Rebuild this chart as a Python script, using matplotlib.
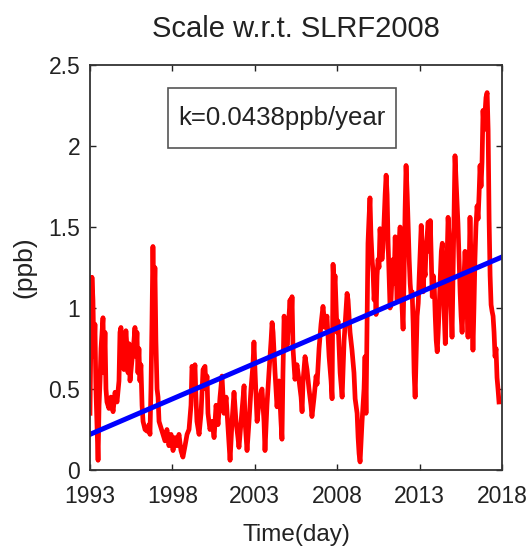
import numpy as np
from matplotlib import pyplot as plt
from matplotlib.patches import Rectangle
from matplotlib.ticker import FormatStrFormatter

# Scale parameter w.r.t. SLRF2008

# Time (decimal year)
t = [
    1993.00, 1993.06, 1993.12, 1993.18, 1993.24, 1993.30, 1993.36, 1993.42, 1993.49, 1993.55,
    1993.61, 1993.67, 1993.79, 1993.85, 1993.91, 1993.97, 1994.03, 1994.15, 1994.27, 1994.40,
    1994.52, 1994.64, 1994.76, 1994.82, 1994.88, 1994.94, 1995.00, 1995.06, 1995.18, 1995.25,
    1995.31, 1995.37, 1995.43, 1995.55, 1995.67, 1995.73, 1995.79, 1995.85, 1995.91, 1995.97,
    1996.03, 1996.09, 1996.16, 1996.22, 1996.34, 1996.46, 1996.58, 1996.64, 1996.70, 1996.76,
    1996.82, 1996.88, 1996.94, 1997.00, 1997.07, 1997.13, 1997.19, 1997.31, 1997.43, 1997.55,
    1997.67, 1997.79, 1997.92, 1998.04, 1998.16, 1998.28, 1998.40, 1998.52, 1998.64, 1998.77,
    1998.89, 1999.01, 1999.13, 1999.19, 1999.31, 1999.37, 1999.43, 1999.49, 1999.62, 1999.74,
    1999.86, 1999.98, 2000.04, 2000.10, 2000.16, 2000.28, 2000.41, 2000.53, 2000.65, 2000.77,
    2000.89, 2001.01, 2001.13, 2001.26, 2001.38, 2001.50, 2001.62, 2001.74, 2001.86, 2001.98,
    2002.04, 2002.17, 2002.29, 2002.35, 2002.41, 2002.53, 2002.65, 2002.77, 2002.89, 2002.95,
    2003.02, 2003.14, 2003.26, 2003.38, 2003.44, 2003.56, 2003.62, 2003.74, 2003.86, 2003.99,
    2004.05, 2004.11, 2004.23, 2004.35, 2004.47, 2004.59, 2004.65, 2004.71, 2004.78, 2004.84,
    2004.90, 2004.96, 2005.08, 2005.14, 2005.20, 2005.26, 2005.32, 2005.44, 2005.56, 2005.69,
    2005.81, 2005.87, 2005.93, 2006.05, 2006.17, 2006.29, 2006.41, 2006.47, 2006.60, 2006.72,
    2006.78, 2006.90, 2007.02, 2007.14, 2007.26, 2007.38, 2007.51, 2007.63, 2007.69, 2007.75,
    2007.81, 2007.87, 2007.99, 2008.05, 2008.18, 2008.30, 2008.42, 2008.54, 2008.60, 2008.66,
    2008.78, 2008.90, 2009.02, 2009.09, 2009.21, 2009.27, 2009.33, 2009.39, 2009.45, 2009.51,
    2009.63, 2009.69, 2009.75, 2009.81, 2009.87, 2009.93, 2009.99, 2010.05, 2010.12, 2010.18,
    2010.24, 2010.30, 2010.36, 2010.42, 2010.48, 2010.54, 2010.60, 2010.66, 2010.72, 2010.78,
    2010.85, 2010.91, 2010.97, 2011.03, 2011.09, 2011.15, 2011.21, 2011.27, 2011.33, 2011.39,
    2011.45, 2011.52, 2011.58, 2011.64, 2011.70, 2011.76, 2011.82, 2011.88, 2011.94, 2012.00,
    2012.06, 2012.12, 2012.18, 2012.25, 2012.31, 2012.37, 2012.43, 2012.49, 2012.55, 2012.61,
    2012.67, 2012.73, 2012.79, 2012.85, 2012.92, 2012.98, 2013.04, 2013.10, 2013.16, 2013.22,
    2013.28, 2013.34, 2013.40, 2013.46, 2013.52, 2013.59, 2013.65, 2013.71, 2013.77, 2013.83,
    2013.89, 2013.95, 2014.01, 2014.07, 2014.13, 2014.19, 2014.26, 2014.32, 2014.38, 2014.44,
    2014.50, 2014.56, 2014.62, 2014.67, 2014.73, 2014.79, 2014.85, 2014.91, 2014.97, 2015.03,
    2015.09, 2015.15, 2015.21, 2015.27, 2015.33, 2015.40, 2015.46, 2015.52, 2015.58, 2015.64,
    2015.70, 2015.76, 2015.82, 2015.88, 2015.94, 2016.00, 2016.06, 2016.12, 2016.18, 2016.24,
    2016.30, 2016.36, 2016.42, 2016.49, 2016.55, 2016.61, 2016.67, 2016.73, 2016.79, 2016.85,
    2016.91, 2016.97, 2017.03, 2017.10, 2017.16, 2017.22, 2017.28, 2017.34, 2017.40, 2017.46,
    2017.52, 2017.58, 2017.64, 2017.70, 2017.76, 2017.82,
]

# Scale (ppb)
scale = [
    0.35, 0.85, 1.19, 1.05, 0.70, 0.90, 0.50, 0.30, 0.06, 0.40,
    0.55, 0.75, 0.94, 0.60, 0.85, 0.50, 0.42, 0.38, 0.45, 0.36,
    0.48, 0.42, 0.55, 0.85, 0.88, 0.70, 0.82, 0.62, 0.86, 0.75,
    0.60, 0.78, 0.55, 0.68, 0.80, 0.88, 0.70, 0.85, 0.60, 0.75,
    0.55, 0.65, 0.40, 0.30, 0.25, 0.24, 0.28, 0.22, 0.50, 0.90,
    1.38, 1.00, 1.25, 0.80, 0.50, 0.45, 0.30, 0.26, 0.22, 0.18,
    0.25, 0.15, 0.22, 0.12, 0.20, 0.15, 0.22, 0.12, 0.08, 0.15,
    0.22, 0.25, 0.40, 0.64, 0.58, 0.65, 0.45, 0.30, 0.22, 0.35,
    0.62, 0.64, 0.50, 0.58, 0.35, 0.25, 0.30, 0.20, 0.40, 0.28,
    0.45, 0.58, 0.35, 0.45, 0.25, 0.06, 0.30, 0.48, 0.30, 0.20,
    0.14, 0.30, 0.45, 0.52, 0.30, 0.12, 0.30, 0.50, 0.65, 0.79,
    0.60, 0.30, 0.42, 0.48, 0.50, 0.30, 0.12, 0.40, 0.60, 0.80,
    0.91, 0.85, 0.60, 0.39, 0.55, 0.30, 0.19, 0.60, 0.95, 0.85,
    0.90, 0.77, 0.95, 1.05, 0.90, 1.07, 0.75, 0.56, 0.65, 0.55,
    0.45, 0.36, 0.55, 0.70, 0.62, 0.50, 0.40, 0.33, 0.45, 0.58,
    0.53, 0.75, 0.90, 1.01, 0.88, 0.95, 0.70, 0.55, 0.44, 1.27,
    1.10, 1.20, 0.85, 0.92, 0.60, 0.45, 0.80, 1.00, 1.09, 1.05,
    0.85, 0.74, 0.60, 0.44, 0.35, 0.20, 0.10, 0.05, 0.17, 0.30,
    0.50, 0.70, 0.35, 0.90, 1.40, 1.55, 1.68, 1.45, 1.30, 1.22,
    1.05, 1.15, 0.96, 1.20, 1.30, 1.25, 1.49, 1.40, 1.30, 1.37,
    1.55, 1.70, 1.82, 1.70, 1.40, 1.20, 1.00, 1.05, 1.20, 1.30,
    1.15, 1.44, 1.20, 1.05, 1.30, 1.40, 1.50, 1.20, 1.00, 0.87,
    1.20, 1.60, 1.88, 1.70, 1.50, 1.30, 1.15, 1.07, 1.10, 0.90,
    0.60, 0.45, 0.70, 0.95, 1.03, 1.20, 1.35, 1.51, 1.30, 1.10,
    1.25, 1.20, 1.40, 1.45, 1.53, 1.35, 1.54, 1.30, 1.07, 1.20,
    1.14, 0.95, 0.80, 0.73, 0.85, 1.00, 1.20, 1.35, 1.40, 1.20,
    0.95, 0.78, 1.00, 1.30, 1.56, 1.45, 1.20, 1.00, 0.82, 1.20,
    1.60, 1.94, 1.80, 1.65, 1.52, 1.30, 1.10, 0.95, 0.85, 1.00,
    1.20, 1.35, 1.20, 1.00, 0.82, 1.20, 1.56, 1.30, 1.00, 0.74,
    1.00, 1.30, 1.50, 1.63, 1.55, 1.70, 1.88, 1.75, 1.90, 2.22,
    2.10, 2.20, 2.30, 2.33, 2.10, 1.54, 1.20, 1.02, 0.98, 0.95,
    0.85, 0.70, 0.75, 0.57, 0.50, 0.42,
]

# Linear trend: intercept at 1993 and rate k (ppb/year)
T0 = 1993
INTERCEPT = 0.22
K = 0.0438

xticks = [1993, 1998, 2003, 2008, 2013, 2018]
yticks = [0, 0.5, 1, 1.5, 2, 2.5]

plt.rcParams["font.family"] = ["Liberation Sans", "DejaVu Sans"]

fig = plt.figure(figsize=(5.29, 5.54), dpi=100)
ax = fig.add_axes([0.1701, 0.1516, 0.7788, 0.731])

t = np.array(t)
scale = np.array(scale)

ax.plot(t, scale, color=(1, 0, 0), lw=3.4, solid_joinstyle="round")
trend_t = np.array([T0, xticks[-1]])
ax.plot(trend_t, INTERCEPT + K * (trend_t - T0), color=(0, 0, 1), lw=3.6)

ax.set_xlim(xticks[0], xticks[-1])
ax.set_ylim(yticks[0], yticks[-1])
ax.set_xticks(xticks)
ax.set_yticks(yticks)
ax.yaxis.set_major_formatter(FormatStrFormatter("%g"))
ax.tick_params(direction="in", length=4, width=1, top=True, right=True,
               labelsize=16.5, colors="#222222")
ax.tick_params(axis="x", pad=11)
ax.tick_params(axis="y", pad=7)
for sp in ax.spines.values():
    sp.set_linewidth(1.3)
    sp.set_color("#333333")

ax.set_title("Scale w.r.t. SLRF2008", fontsize=21, pad=20, color="#222222")
ax.set_xlabel("Time(day)", fontsize=17.5, labelpad=11, color="#222222")
ax.set_ylabel("(ppb)", fontsize=19, labelpad=9, color="#222222")

# Slope annotation box
ax.add_patch(Rectangle((0.189, 0.795), 0.554, 0.148, transform=ax.transAxes,
                       facecolor="white", edgecolor="#555555", lw=1.2, zorder=5))
ax.text(0.466, 0.869, "k=%.4fppb/year" % K, transform=ax.transAxes,
        ha="center", va="center", fontsize=18.5, color="#222222", zorder=6)

plt.savefig("out.png", dpi=100)
